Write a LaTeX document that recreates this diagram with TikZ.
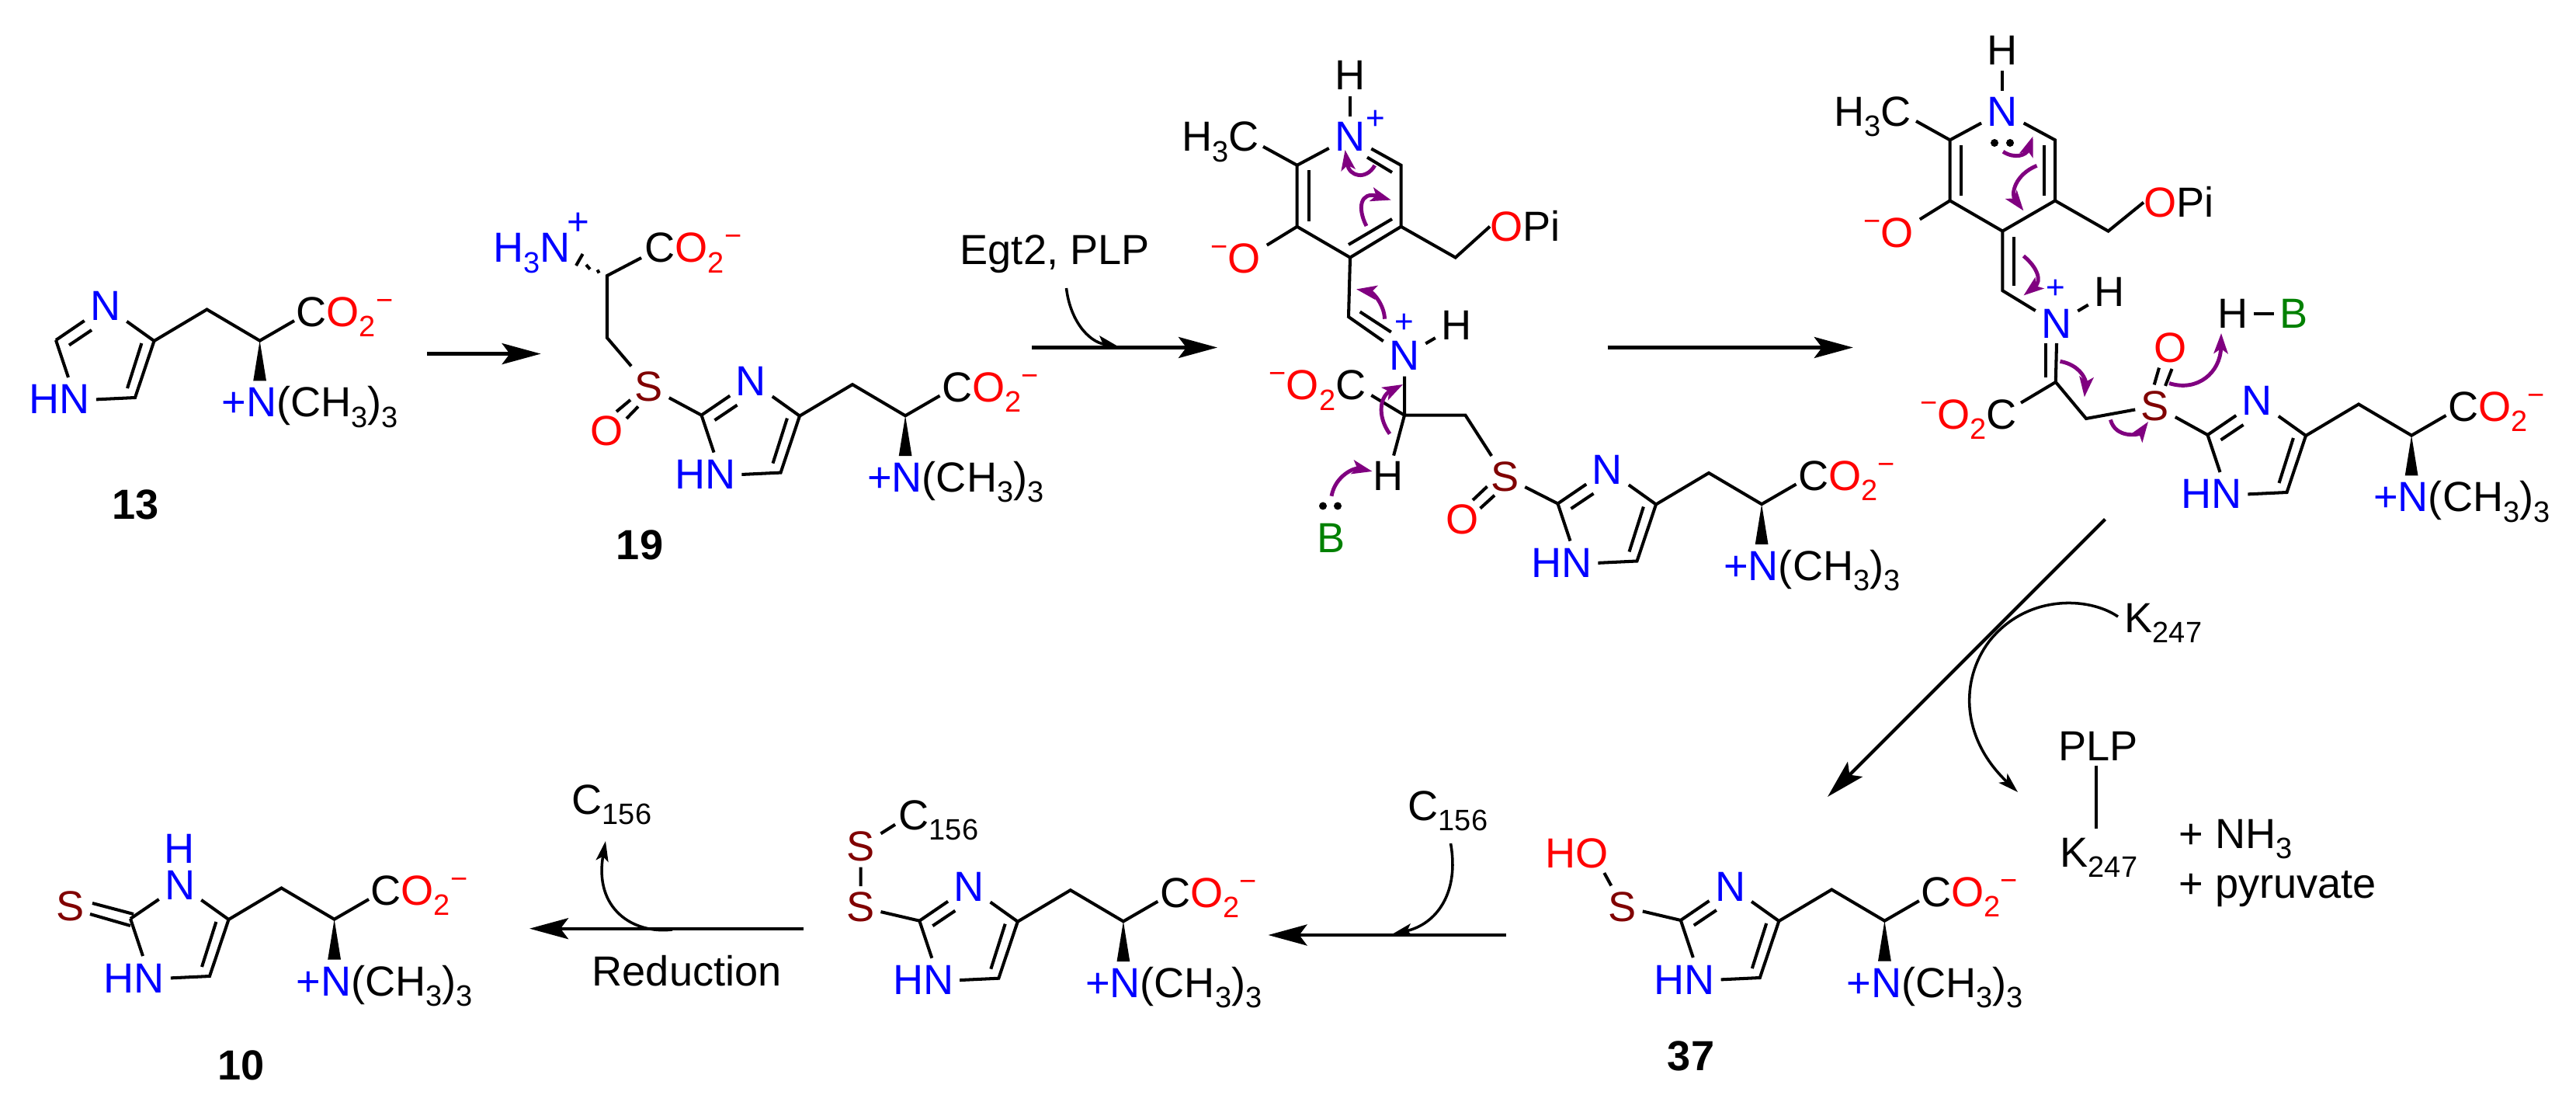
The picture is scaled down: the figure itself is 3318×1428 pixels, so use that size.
\documentclass[tikz,border=0pt]{standalone}
\usepackage{fontspec}
\setmainfont{Liberation Sans}
\usepackage{xcolor}
\usetikzlibrary{arrows.meta}
\definecolor{sulf}{RGB}{128,0,0}
\definecolor{epush}{RGB}{128,0,128}
\definecolor{base}{RGB}{0,128,0}
\newcommand{\lsub}[1]{\raisebox{-3.7pt}{\fontsize{10.8}{11}\selectfont #1}}
\newcommand{\lsup}[1]{\raisebox{6pt}{\fontsize{10.8}{11}\selectfont #1}}
\newcommand{\coo}{C\textcolor{red}{O\lsub{2}\lsup{−}}}
\newcommand{\nme}{\textcolor{blue}{+N}(CH\lsub{3})\lsub{3}}
\tikzstyle{bond}=[line width=1.15pt]
\tikzstyle{atom}=[inner sep=2pt,anchor=base]
\tikzstyle{grp}=[inner sep=0pt,anchor=base west]
\tikzstyle{chg}=[inner sep=0pt,blue,font=\fontsize{12}{12}\selectfont]
\tikzstyle{lab}=[inner sep=0pt,font=\fontsize{15.4}{16}\selectfont\bfseries]
\tikzstyle{rxn}=[line width=1.2pt,-{Stealth[length=0.5cm,width=0.27cm,inset=0.1cm]}]
\tikzstyle{reag}=[line width=1pt,-{Stealth[length=0.26cm,width=0.16cm,inset=0.06cm]}]
\tikzstyle{push}=[epush,line width=1.4pt,-{Stealth[length=0.26cm,width=0.18cm,inset=0.06cm]}]
\tikzset{
  chain/.pic={
    \coordinate (-c2) at (72,438);
    \coordinate (-c4) at (198.5,439);
    \coordinate (-c5) at (174,512);
    \coordinate (-ca) at (266.5,398.5);
    \coordinate (-cb) at (334.6,438.7);
    \coordinate (-ce) at (379,413);
    \coordinate (-hb) at (88,486);
    \coordinate (-i1) at (182.4,442);
    \coordinate (-i2) at (164,500);
    \coordinate (-w1) at (326.2,490.5);
    \coordinate (-w2) at (343,490.5);
    \node[atom,blue] (-n) at (136,413) {N};
    \node[atom,blue] (-hn) at (77,533) {HN};
    \node[grp] (-co) at (381,420.7) {\coo};
    \node[grp] (-me) at (285,537) {\nme};
    \draw[bond] (-n) -- (-c4) -- (-c5) -- (-hn.east);
    \draw[bond] (-hb) -- (-c2);
    \draw[bond] (-i1) -- (-i2);
    \draw[bond] (-c4) -- (-ca) -- (-cb) -- (-ce);
    \fill (-cb) -- (-w1) -- (-w2) -- cycle;
  },
  imine/.pic={
    \coordinate (-d1) at (89,444.5);
    \coordinate (-d2) at (118,425);
    \draw[bond] (-c2) -- (-n);
    \draw[bond] (-d1) -- (-d2);
  }
}
\begin{document}
\begin{tikzpicture}[x=0.01cm,y=-0.01cm,font=\fontsize{15.4}{16}\selectfont]
\useasboundingbox (0,0) rectangle (3318,1428);
% histidine betaine
\pic (his) at (0,0) {chain};
\pic (his) at (0,0) {imine};
\node[lab] (lab13) at (175,650) {13};
% sulfoxide
\pic (sul) at (831.5,96.6) {chain};
\pic (sul) at (831.5,96.6) {imine};
\coordinate (sa) at (782,355);
\coordinate (sb) at (782,435);
\coordinate (se) at (826,332);
\coordinate (so1) at (794,530); \coordinate (so2) at (812,515);
\coordinate (so3) at (807,539); \coordinate (so4) at (822,523.5);
\coordinate (sh1) at (769.5,347.5); \coordinate (sh2) at (771.6,351.5);
\coordinate (sh3) at (755,341); \coordinate (sh4) at (760,346.6);
\coordinate (sh5) at (742,342); \coordinate (sh6) at (750.6,327);
\node[atom,sulf] (ss) at (836,517) {S};
\node[atom,red] (so) at (781.5,573.5) {O};
\node[grp,blue] (snh) at (635,338) {H\lsub{3}N};
\node[chg,font=\fontsize{14}{14}\selectfont] (spl) at (745,288) {+};
\node[grp] (sco) at (830,338) {\coo};
\node[lab] (lab19) at (824,702) {19};
\draw[bond] (se) -- (sa) -- (sb) -- (ss);
\draw[bond] (ss) -- (sul-c2);
\draw[bond] (so1) -- (so2);
\draw[bond] (so3) -- (so4);
\draw[bond] (sh1) -- (sh2);
\draw[bond] (sh3) -- (sh4);
\draw[bond] (sh5) -- (sh6);
% arrows of the top row
\coordinate (a1s) at (550,455.6); \coordinate (a1e) at (696.6,455.6);
\coordinate (a2s) at (1329,447.5); \coordinate (a2e) at (1568,447.5);
\coordinate (a3s) at (2070.5,447.5); \coordinate (a3e) at (2386.8,447.5);
\coordinate (r1s) at (1373.5,371); \coordinate (r1e) at (1445,447);
\draw[rxn] (a1s) -- (a1e);
\draw[rxn] (a2s) -- (a2e);
\draw[rxn] (a3s) -- (a3e);
\node[grp] (egt) at (1236,341) {Egt2, PLP};
\draw[line width=1pt,-{Stealth[length=0.26cm,width=0.2cm,inset=0.06cm,left]}] (r1s) .. controls (1378,410) and (1400,440) .. (r1e);
% pyridinium aldimine
\pic (imn) at (1934.5,210.5) {chain};
\pic (imn) at (1934.5,210.5) {imine};
\coordinate (c2) at (1670.7,212.8); \coordinate (c3) at (1670.7,291.8);
\coordinate (c4) at (1739,331.6); \coordinate (c5) at (1804.6,291.8);
\coordinate (c6) at (1804.6,212.8); \coordinate (cm) at (1627,188.8);
\coordinate (c7) at (1874.7,331.6); \coordinate (c8) at (1737,408);
\coordinate (c9) at (1809,534.7); \coordinate (c10) at (1887.5,534.7);
\coordinate (c11) at (1766.3,509);
\coordinate (d1) at (1761,202.6); \coordinate (d2) at (1793,222);
\coordinate (d3) at (1686,219.4); \coordinate (d4) at (1686,284.7);
\coordinate (d5) at (1737,315); \coordinate (d6) at (1793,282);
\coordinate (d7) at (1751.7,401.5); \coordinate (d8) at (1791.8,427.6);
\coordinate (d9) at (1897,644); \coordinate (d10) at (1915.5,626.5);
\coordinate (d11) at (1906.6,654.6); \coordinate (d12) at (1925,637.8);
\node[atom,blue] (n1) at (1739,195) {N};
\node[atom] (h1) at (1739,116) {H};
\node[chg] (p1) at (1771.4,154.6) {+};
\node[grp] (me1) at (1522,195) {H\lsub{3}C};
\node[atom,red] (o1) at (1603,352) {\llap{\textcolor{red}{\lsup{−}}}O};
\node[grp] (op1) at (1919,311) {\textcolor{red}{O}Pi};
\node[atom,blue] (n2) at (1809,477) {N};
\node[chg] (p2) at (1809,416) {+};
\node[atom] (h2) at (1876,437.8) {H};
\node[atom] (h3) at (1788,631.6) {H};
\node[grp,anchor=base east] (co1) at (1760,515) {\textcolor{red}{\lsup{−}O\lsub{2}}C};
\node[atom,sulf] (s1) at (1938.5,632.6) {S};
\node[atom,red] (o2) at (1883.7,687.8) {O};
\node[atom,base] (b1) at (1715,711.7) {B};
\fill (1704,651.5) coordinate (e1) circle (5);
\fill (1723,651.5) coordinate (e2) circle (5);
\draw[bond] (h1) -- (n1);
\draw[bond] (cm) -- (c2) -- (n1) -- (c6) -- (c5) -- (c4) -- (c3) -- (c2);
\draw[bond] (c3) -- (o1);
\draw[bond] (c5) -- (c7) -- (op1.west);
\draw[bond] (c4) -- (c8) -- (n2) -- (c9) -- (c10) -- (s1);
\draw[bond] (n2) -- (h2);
\draw[bond] (c9) -- (h3);
\draw[bond] (c9) -- (c11);
\draw[bond] (s1) -- (imn-c2);
\draw[bond] (d1) -- (d2);
\draw[bond] (d3) -- (d4);
\draw[bond] (d5) -- (d6);
\draw[bond] (d7) -- (d8);
\draw[bond] (d9) -- (d10);
\draw[bond] (d11) -- (d12);
\coordinate (m1) at (1770.8,213); \coordinate (m2) at (1732.5,193);
\coordinate (m3) at (1760,291); \coordinate (m4) at (1791.8,257.6);
\coordinate (m5) at (1783.5,410.7); \coordinate (m6) at (1747,372.4);
\coordinate (m7) at (1790,558.7); \coordinate (m8) at (1807,495);
\coordinate (m9) at (1715,638.8); \coordinate (m10) at (1767.6,607);
\draw[push] (m1) .. controls (1760,232) and (1738,228) .. (m2);
\draw[push] (m3) .. controls (1748,268) and (1752,246) .. (m4);
\draw[push] (m5) .. controls (1783,392) and (1768,376) .. (m6);
\draw[push] (m7) .. controls (1773,535) and (1778,510) .. (m8);
\draw[push] (m9) .. controls (1720,612) and (1745,602) .. (m10);
% quinonoid
\pic (qui) at (2771.5,122) {chain};
\pic (qui) at (2771.5,122) {imine};
\coordinate (q2) at (2511.6,180.3); \coordinate (q3) at (2511.6,258.4);
\coordinate (q4) at (2579.3,297.6); \coordinate (q5) at (2647,258.4);
\coordinate (q6) at (2647,180.3); \coordinate (qm) at (2468,156);
\coordinate (q7) at (2715.5,297.6); \coordinate (q8) at (2579.3,374.2);
\coordinate (q9) at (2647.8,492); \coordinate (q10) at (2687,539);
\coordinate (q11) at (2603,518.7);
\coordinate (f1) at (2525.8,186.6); \coordinate (f2) at (2525.8,252);
\coordinate (f3) at (2632.8,186.6); \coordinate (f4) at (2632.8,252);
\coordinate (f5) at (2593.6,305); \coordinate (f6) at (2593.6,368.4);
\coordinate (f7) at (2635,442); \coordinate (f8) at (2635,485.7);
\coordinate (f9) at (2649,442);
\coordinate (f10) at (2781,473.6); \coordinate (f11) at (2774.7,495.4);
\coordinate (f12) at (2797.5,475); \coordinate (f13) at (2789,496.9);
\node[atom,blue] (n3) at (2579.3,162.4) {N};
\node[atom] (h4) at (2579.3,83.4) {H};
\node[grp] (me2) at (2362,162.4) {H\lsub{3}C};
\node[atom,red] (o3) at (2444,319) {\llap{\textcolor{red}{\lsup{−}}}O};
\node[grp] (op2) at (2761,280) {\textcolor{red}{O}Pi};
\node[atom,blue] (n4) at (2649,435.3) {N};
\node[chg] (p3) at (2647.8,372.3) {+};
\node[atom] (h5) at (2717,395) {H};
\node[grp,anchor=base east] (co2) at (2598.5,552.6) {\textcolor{red}{\lsup{−}O\lsub{2}}C};
\node[atom,sulf] (s2) at (2776,541.4) {S};
\node[atom,red] (o4) at (2796,466.3) {O};
\node[atom] (h6) at (2876,422.7) {H};
\node[atom,base] (b2) at (2954.4,422.7) {B};
\fill (2569,184) coordinate (e3) circle (5);
\fill (2589,184) coordinate (e4) circle (5);
\draw[bond] (h4) -- (n3);
\draw[bond] (qm) -- (q2) -- (n3) -- (q6) -- (q5) -- (q4) -- (q3) -- (q2);
\draw[bond] (q3) -- (o3);
\draw[bond] (q5) -- (q7) -- (op2.west);
\draw[bond] (q4) -- (q8) -- (n4);
\draw[bond] (n4) -- (h5);
\draw[bond] (f9) -- (q9) -- (q10) -- (s2);
\draw[bond] (q9) -- (q11);
\draw[bond] (s2) -- (qui-c2);
\draw[bond] (f1) -- (f2);
\draw[bond] (f3) -- (f4);
\draw[bond] (f5) -- (f6);
\draw[bond] (f7) -- (f8);
\draw[bond] (f10) -- (f11);
\draw[bond] (f12) -- (f13);
\draw[bond] (h6) -- (b2);
\coordinate (w1) at (2580,195.3); \coordinate (w2) at (2618.5,175.5);
\coordinate (w3) at (2623.5,213.3); \coordinate (w4) at (2606.4,271.4);
\coordinate (w5) at (2606.4,329.6); \coordinate (w6) at (2606.4,380.5);
\coordinate (w7) at (2653.5,465.3); \coordinate (w8) at (2684.8,511.4);
\coordinate (w9) at (2718.4,540.5); \coordinate (w10) at (2767,543);
\coordinate (w11) at (2794,493.5); \coordinate (w12) at (2861,429);
\draw[push] (w1) .. controls (2595,205) and (2610,200) .. (w2);
\draw[push] (w3) .. controls (2595,225) and (2590,250) .. (w4);
\draw[push] (w5) .. controls (2625,345) and (2630,362) .. (w6);
\draw[push] (w7) .. controls (2680,470) and (2687,490) .. (w8);
\draw[push] (w9) .. controls (2725,565) and (2755,560) .. (w10);
\draw[push] (w11) .. controls (2830,505) and (2860,480) .. (w12);
% elimination and the lysine
\coordinate (a4s) at (2711.5,668.6); \coordinate (a4e) at (2354,1026);
\coordinate (r2s) at (2728,794); \coordinate (r2m) at (2562,826); \coordinate (r2e) at (2599,1020);
\draw[rxn] (a4s) -- (a4e);
\draw[reag] (r2s) .. controls (2690,768) and (2610,765) .. (r2m) .. controls (2525,875) and (2525,950) .. (r2e);
\node[grp] (k1) at (2736,814.4) {K\lsub{247}};
\node[grp] (plp) at (2651,979.2) {PLP};
\node[grp] (k2) at (2653,1116.4) {K\lsub{247}};
\node[grp] (nh3) at (2806,1092) {+ NH\lsub{3}};
\node[grp] (pyr) at (2806,1156) {+ pyruvate};
\coordinate (k2t) at (2700,1067); \coordinate (k2b) at (2700,985.7);
\draw[bond] (k2b) -- (k2t);
% sulfenic acid
\pic (soh) at (2092.8,747) {chain};
\pic (soh) at (2092.8,747) {imine};
\node[grp,red] (ho) at (1990,1117.4) {HO};
\node[atom,sulf] (s3) at (2090,1186) {S};
\coordinate (hb) at (2066.3,1124);
\draw[bond] (hb) -- (s3);
\draw[bond] (s3) -- (soh-c2);
\node[lab] (lab37) at (2178,1359.6) {37};
\coordinate (a5s) at (1940,1204); \coordinate (a5e) at (1633.5,1204);
\coordinate (r3s) at (1868.5,1086); \coordinate (r3e) at (1793,1203);
\draw[rxn] (a5s) -- (a5e);
\draw[reag] (r3s) .. controls (1880,1150) and (1850,1190) .. (r3e);
\node[grp] (cys1) at (1813,1056.7) {C\lsub{156}};
% mixed disulfide
\pic (ssc) at (1112.3,747.7) {chain};
\pic (ssc) at (1112.3,747.7) {imine};
\node[atom,sulf] (s4) at (1108.7,1186.7) {S};
\node[atom,sulf] (s5) at (1108.7,1108.3) {S};
\node[grp] (cys2) at (1157,1068) {C\lsub{156}};
\coordinate (cc) at (1153,1061.7);
\draw[bond] (ssc-c2) -- (s4) -- (s5) -- (cc);
\coordinate (a6s) at (1034.7,1195.7); \coordinate (a6e) at (682,1195.7);
\coordinate (r4s) at (866,1197); \coordinate (r4e) at (780,1083);
\draw[rxn] (a6s) -- (a6e);
\draw[reag] (r4s) .. controls (815,1203) and (765,1170) .. (r4e);
\node[grp] (cys3) at (736,1048.3) {C\lsub{156}};
\node[grp] (redn) at (762,1269) {Reduction};
% ergothioneine
\pic (thi) at (96,745) {chain};
\node[grp,anchor=base,blue] (h7) at (231.5,1111) {H};
\node[atom,sulf] (s6) at (91,1185) {S};
\coordinate (t1) at (119,1163); \coordinate (t2) at (172,1177);
\coordinate (t3) at (116,1177); \coordinate (t4) at (168,1192);
\draw[bond] (thi-c2) -- (thi-n);
\draw[bond] (t1) -- (t2);
\draw[bond] (t3) -- (t4);
\node[lab] (lab10) at (310.8,1371.7) {10};
\end{tikzpicture}
\end{document}
